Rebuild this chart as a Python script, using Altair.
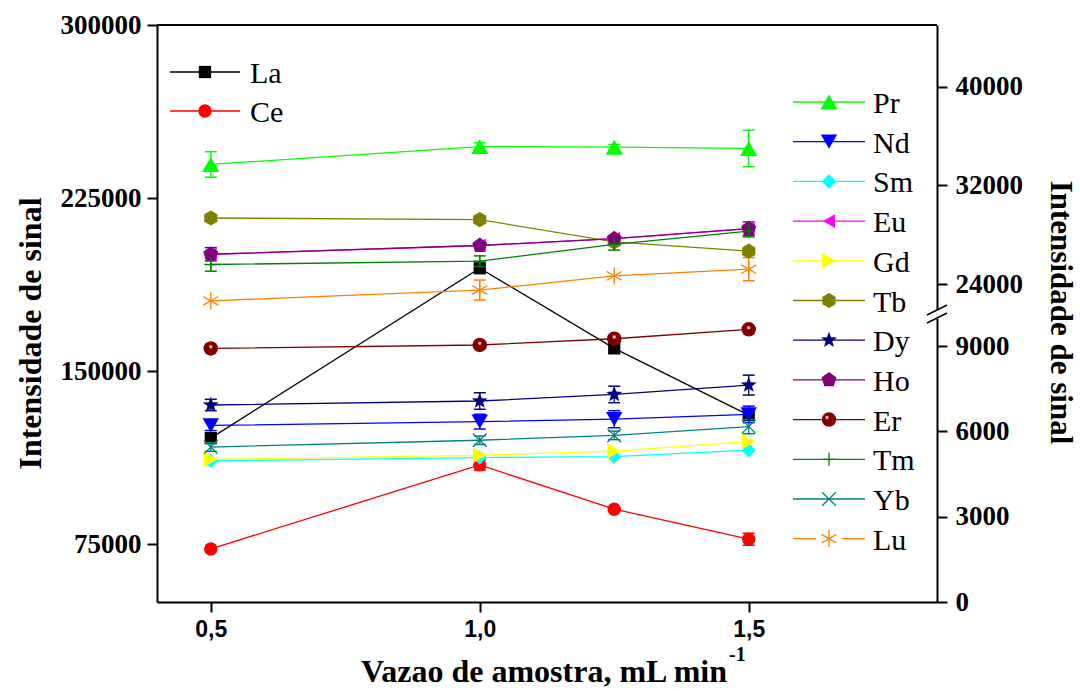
import math
import altair as alt
import pandas as pd

# ---------------- data ----------------
x_vals = [0.5, 1.0, 1.25, 1.5]

# left axis (Intensidade de sinal, 50000-300000)
la_y = [121000, 194600, 159900, 131000]
ce_y = [73000, 109400, 90200, 77200]
la_err = [0, 0, 0, 0]
ce_err = [0, 2200, 0, 2600]

# right axis (broken: 0-10000 / 21280-45000)
pr_y = [33700, 35150, 35100, 35000]
nd_y = [6210, 6345, 6430, 6600]
sm_y = [4960, 5080, 5110, 5340]
eu_y = [26420, 27130, 27690, 28500]
gd_y = [5020, 5160, 5310, 5640]
tb_y = [29360, 29230, 27420, 26670]
dy_y = [6930, 7070, 7300, 7630]
ho_y = [26420, 27130, 27690, 28500]
er_y = [8920, 9040, 9260, 9590]
tm_y = [25590, 25860, 27230, 28300]
yb_y = [5450, 5690, 5860, 6170]
lu_y = [22650, 23520, 24670, 25210]

pr_err = [1030, 300, 220, 1480]
nd_err = [180, 260, 300, 290]
sm_err = [0, 0, 0, 0]
eu_err = [0, 0, 0, 0]
gd_err = [0, 0, 0, 0]
tb_err = [0, 0, 0, 0]
dy_err = [200, 290, 290, 350]
ho_err = [540, 0, 0, 540]
er_err = [0, 0, 0, 0]
tm_err = [540, 430, 470, 470]
yb_err = [150, 150, 150, 250]
lu_err = [0, 810, 0, 940]

left_names = ["La", "Ce"]
right_names = ["Pr", "Nd", "Sm", "Eu", "Gd", "Tb", "Dy", "Ho", "Er", "Tm", "Yb", "Lu"]

left_ticks = [75000, 150000, 225000, 300000]
right_ticks = [0, 3000, 6000, 9000, 24000, 32000, 40000]
x_ticks = [0.5, 1.0, 1.5]

# ---------------- styles ----------------
def poly(n, r_out, r_in=None, start=-90):
    pts = []
    k = n * 2 if r_in is not None else n
    step = 360.0 / k
    for i in range(k):
        r = r_out if (r_in is None or i % 2 == 0) else r_in
        a = math.radians(start + step * i)
        pts.append(f"{r*math.cos(a):.3f},{r*math.sin(a):.3f}")
    return "M" + "L".join(pts) + "Z"

HEX = poly(6, 1.0)
PENT = poly(5, 1.0)
STAR = poly(5, 1.0, 0.42)
PLUS = "M-1,0L1,0M0,-1L0,1"
XMARK = "M-0.75,-0.75L0.75,0.75M-0.75,0.75L0.75,-0.75"
AST = "M0,-1L0,1M-0.866,-0.5L0.866,0.5M-0.866,0.5L0.866,-0.5"
CAP = "M-1,0L1,0"

style = {
    "La": ("#000000", "square", 150, True),
    "Ce": ("#FF0000", "circle", 180, True),
    "Pr": ("#00FF00", "triangle-up", 300, True),
    "Nd": ("#0000FF", "triangle-down", 270, True),
    "Sm": ("#00FFFF", "diamond", 210, True),
    "Eu": ("#FF00FF", "triangle-left", 190, True),
    "Gd": ("#FFFF00", "triangle-right", 250, True),
    "Tb": ("#808000", HEX, 230, True),
    "Dy": ("#000080", STAR, 280, True),
    "Ho": ("#800080", PENT, 250, True),
    "Er": ("#800000", "circle", 210, True),
    "Tm": ("#008000", PLUS, 170, False),
    "Yb": ("#008080", XMARK, 330, False),
    "Lu": ("#FF8000", AST, 300, False),
}

series_y = {"La": la_y, "Ce": ce_y, "Pr": pr_y, "Nd": nd_y, "Sm": sm_y, "Eu": eu_y,
            "Gd": gd_y, "Tb": tb_y, "Dy": dy_y, "Ho": ho_y, "Er": er_y, "Tm": tm_y,
            "Yb": yb_y, "Lu": lu_y}
series_err = {"La": la_err, "Ce": ce_err, "Pr": pr_err, "Nd": nd_err, "Sm": sm_err,
              "Eu": eu_err, "Gd": gd_err, "Tb": tb_err, "Dy": dy_err, "Ho": ho_err,
              "Er": er_err, "Tm": tm_err, "Yb": yb_err, "Lu": lu_err}

def build(names):
    rows = []
    for o, n in enumerate(names):
        c, s, z, f = style[n]
        for xv, yv, ev in zip(x_vals, series_y[n], series_err[n]):
            rows.append(dict(el=n, o=o, x=xv, y=yv, err=ev, lo=yv - ev, hi=yv + ev,
                             color=c, shape=s, size=z, filled=f))
    return pd.DataFrame(rows)

left_df = build(left_names)
right_df = build(right_names)

# ---------------- geometry ----------------
W, H = 780, 577
PAD_L, PAD_T = 157, 25
SERIF = "Liberation Serif"
SANS = "Liberation Sans"

xscale = alt.Scale(domain=[0.4, 1.85], nice=False, zero=False)
X = alt.X("x:Q", scale=xscale,
          axis=alt.Axis(values=x_ticks, labelExpr="replace(format(datum.value, '.1f'), '.', ',')",
                        labelFont=SANS, labelFontSize=23, labelFontWeight="bold",
                        labelColor="black", tickSize=10, tickWidth=2, domainWidth=2,
                        domainColor="black", tickColor="black",
                        labelPadding=6, labelFlush=False, labelOverlap=False,
                        title="", grid=False))
# other layers: no axis option at all, so they merge into the one above
Xn = alt.X("x:Q", scale=xscale)

lscale = alt.Scale(domain=[50000, 300000], nice=False, zero=False)
rscale = alt.Scale(domain=[0, 10000, 21280, 45000], range=[H, H - 284.3, H - 284.3, 0],
                   nice=False, zero=False)

left_axis = alt.Axis(values=left_ticks, format="d", labelFont=SERIF, labelFontSize=27,
                     labelFontWeight="bold", labelColor="black", tickSize=10, tickWidth=2,
                     domainWidth=2, domainColor="black", tickColor="black",
                     labelPadding=6, labelFlush=False, labelOverlap=False,
                     grid=False, title="Intensidade de sinal", titleFont=SERIF,
                     titleFontSize=32, titleFontWeight="bold", titleColor="black",
                     titleAngle=-90, titleX=-127, titleY=308, titleAlign="center",
                     titleBaseline="middle")
right_axis = alt.Axis(orient="right", values=right_ticks, format="d", labelFont=SERIF,
                      labelFontSize=27, labelFontWeight="bold", labelColor="black",
                      tickSize=10, tickWidth=2, domainWidth=2, domainColor="black",
                      tickColor="black", labelPadding=8,
                      labelFlush=False, labelOverlap=False, grid=False,
                      title="Intensidade de sinal", titleFont=SERIF, titleFontSize=31,
                      titleFontWeight="bold", titleColor="black", titleAngle=90,
                      titleX=122, titleY=287, titleAlign="center", titleBaseline="middle")

COL = alt.Color("color:N", scale=None)
SHP = alt.Shape("shape:N", scale=None)
SIZ = alt.Size("size:Q", scale=None)


def series_layers(df, yscale, axis, x_enc):
    base = alt.Chart(df)
    line = base.mark_line(strokeWidth=1.3, opacity=1).encode(
        x=x_enc, y=alt.Y("y:Q", scale=yscale, axis=axis),
        color=COL, detail="el:N")
    errd = base.transform_filter("datum.err > 0")
    bars = errd.mark_rule(strokeWidth=1.3).encode(
        x=Xn, y=alt.Y("lo:Q", scale=yscale, axis=None), y2="hi:Q", color=COL)
    caps_lo = errd.mark_point(shape=CAP, size=144, filled=False, strokeWidth=1.5,
                              opacity=1).encode(
        x=Xn, y=alt.Y("lo:Q", scale=yscale, axis=None), color=COL)
    caps_hi = errd.mark_point(shape=CAP, size=144, filled=False, strokeWidth=1.5,
                              opacity=1).encode(
        x=Xn, y=alt.Y("hi:Q", scale=yscale, axis=None), color=COL)
    pts_f = base.transform_filter("datum.filled").mark_point(filled=True, opacity=1).encode(
        x=Xn, y=alt.Y("y:Q", scale=yscale, axis=None), color=COL, shape=SHP, size=SIZ)
    hl = base.transform_filter("datum.el == 'Er'").transform_calculate(
        yh="datum.y + 60").mark_point(
        filled=True, opacity=0.9, shape="circle", size=12, color="#f4c8c8").encode(
        x=Xn, y=alt.Y("yh:Q", scale=yscale, axis=None))
    pts_u = base.transform_filter("!datum.filled").mark_point(
        filled=False, opacity=1, strokeWidth=1.3).encode(
        x=Xn, y=alt.Y("y:Q", scale=yscale, axis=None), color=COL, shape=SHP, size=SIZ)
    return [line, bars, caps_lo, caps_hi, pts_f, hl, pts_u]


# ---------------- legends (pixel positions computed from row index) ----------------
def legend_df(names, y0, step):
    rows = []
    for i, n in enumerate(names):
        c, s, z, f = style[n]
        rows.append(dict(el=n, ly=y0 + step * i, color=c, shape=s, size=z, filled=f))
    return pd.DataFrame(rows)

PIX = alt.Scale(domain=[0, H], range=[0, H], nice=False, zero=False)

def legend_layers(df, x0, x1, xm, xt):
    b = alt.Chart(df)
    Y = alt.Y("ly:Q", scale=PIX, axis=None)
    ln = b.mark_rule(strokeWidth=1.3).encode(x=alt.value(x0), x2=alt.value(x1), y=Y, color=COL)
    gap = b.transform_filter("datum.el == 'Lu'").mark_point(
        filled=True, opacity=1, shape="square", size=700, color="white").encode(
        x=alt.value(xm), y=Y)
    pf = b.transform_filter("datum.filled").mark_point(filled=True, opacity=1).encode(
        x=alt.value(xm), y=Y, color=COL, shape=SHP, size=SIZ)
    hl = b.transform_filter("datum.el == 'Er'").transform_calculate(
        lh="datum.ly - 2").mark_point(
        filled=True, opacity=0.9, shape="circle", size=12, color="#f4c8c8").encode(
        x=alt.value(xm - 2), y=alt.Y("lh:Q", scale=PIX, axis=None))
    pu = b.transform_filter("!datum.filled").mark_point(filled=False, opacity=1,
                                                        strokeWidth=1.3).encode(
        x=alt.value(xm), y=Y, color=COL, shape=SHP, size=SIZ)
    tx = b.mark_text(align="left", baseline="middle", font=SERIF, fontSize=30,
                     color="black", dy=2).encode(x=alt.value(xt), y=Y, text="el:N")
    return [ln, gap, pf, hl, pu, tx]

# ---------------- decorations: frame top, axis break and x title ----------------
dummy = pd.DataFrame({"a": [0]})
d = alt.Chart(dummy)
top = d.mark_rule(color="black", strokeWidth=2).encode(
    x=alt.value(0), x2=alt.value(W), y=alt.value(0))
brk_white = d.mark_rule(color="white", strokeWidth=6).encode(
    x=alt.value(W), y=alt.value(284), y2=alt.value(294))
brk1 = d.mark_rule(color="black", strokeWidth=1.5).encode(
    x=alt.value(W - 10), x2=alt.value(W + 10), y=alt.value(290), y2=alt.value(280))
brk2 = d.mark_rule(color="black", strokeWidth=1.5).encode(
    x=alt.value(W - 10), x2=alt.value(W + 10), y=alt.value(298), y2=alt.value(288))
xt1 = d.mark_text(text="Vazao de amostra, mL min", font=SERIF, fontSize=32,
                  fontWeight="bold", align="right", baseline="alphabetic",
                  color="black").encode(x=alt.value(570), y=alt.value(657))
xt2 = d.mark_text(text="-1", font=SERIF, fontSize=20, fontWeight="bold", align="left",
                  baseline="alphabetic", color="black").encode(x=alt.value(572),
                                                               y=alt.value(636))

layers = (series_layers(left_df, lscale, left_axis, X)
          + series_layers(right_df, rscale, right_axis, Xn)
          + legend_layers(legend_df(left_names, 47, 39), 13, 83, 48, 93)
          + legend_layers(legend_df(right_names, 77, 39.7), 636, 708, 672, 716)
          + [top, brk_white, brk1, brk2, xt1, xt2])

chart = alt.layer(*layers).resolve_scale(
    y="independent"
).properties(
    width=W, height=H,
    autosize=alt.AutoSizeParams(type="none"),
    padding={"left": PAD_L, "top": PAD_T, "right": 1080 - PAD_L - W,
             "bottom": 691 - PAD_T - H},
    background="white",
).configure_view(stroke=None)

chart.save("out.html", embed_options={"renderer": "svg", "actions": False})
